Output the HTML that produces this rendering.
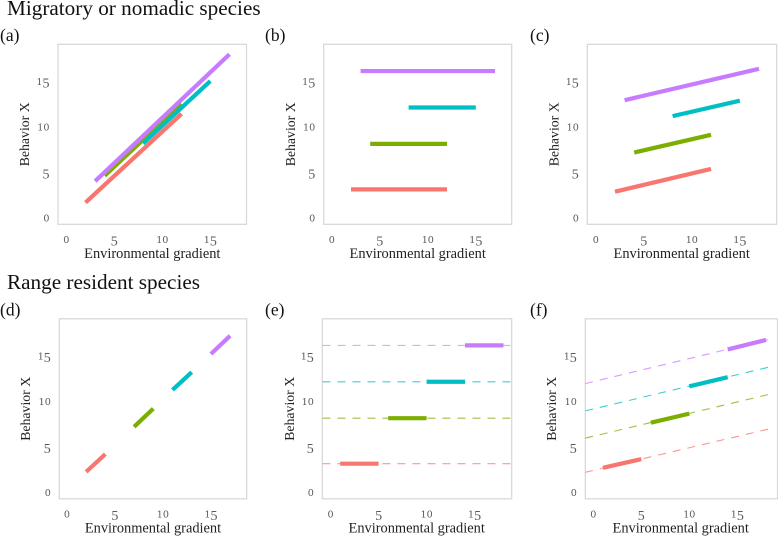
<!DOCTYPE html>
<html>
<head>
<meta charset="utf-8">
<title>Behavior along an environmental gradient</title>
<style>
html,body{margin:0;padding:0;background:#fff;}
svg{display:block;}
text{font-family:"Liberation Serif",serif;}
</style>
</head>
<body>
<svg id="figure" xmlns="http://www.w3.org/2000/svg" width="778" height="536" viewBox="0 0 778 536">
<text x="7" y="15" font-size="21.2" fill="#111">Migratory or nomadic species</text>
<text x="7" y="289" font-size="21.2" fill="#111">Range resident species</text>
</svg>
<script>
const colors = ['#F8766D', '#7CAE00', '#00BFC4', '#C77CFF'];
const speciesNames = ['species-1', 'species-2', 'species-3', 'species-4'];
const tickValues = [0, 5, 10, 15];
const tickLabels = ['0', '5', '10', '15'];
const xDomain = [-0.85, 18.85];

const aXStart = [2, 4, 8, 3];
const aXEnd = [12, 12, 15, 17];
const aYStart = [1.75, 4.7, 8.25, 4.1];
const aYEnd = [11.5, 12.6, 15.1, 18.05];

const bXStart = [2, 4, 8, 3];
const bXEnd = [12, 12, 15, 17];
const bYStart = [3.2, 8.2, 12.2, 16.2];
const bYEnd = [3.2, 8.2, 12.2, 16.2];

const cXStart = [2, 4, 8, 3];
const cXEnd = [12, 12, 15, 17];
const cYStart = [2.95, 7.25, 11.25, 13.0];
const cYEnd = [5.45, 9.2, 12.95, 16.45];

const dXStart = [2, 7, 11, 15];
const dXEnd = [4, 9, 13, 17];
const dYStart = [2.3, 7.25, 11.3, 15.25];
const dYEnd = [4.25, 9.25, 13.25, 17.25];

const eXStart = [1, 6, 10, 14];
const eXEnd = [5, 10, 14, 18];
const eYStart = [3.2, 8.2, 12.2, 16.2];
const eYEnd = [3.2, 8.2, 12.2, 16.2];
const eTrendLeft = [3.2, 8.2, 12.2, 16.2];
const eTrendRight = [3.2, 8.2, 12.2, 16.2];

const fXStart = [1, 6, 10, 14];
const fXEnd = [5, 10, 14, 18];
const fYStart = [2.75, 7.7, 11.7, 15.75];
const fYEnd = [3.7, 8.7, 12.7, 16.8];
const fTrendLeft = [2.25, 6.0, 9.0, 12.0];
const fTrendRight = [7.15, 10.95, 13.95, 17.0];

const svg = document.getElementById('figure');
const NS = 'http://www.w3.org/2000/svg';

function make(tag, attrs, parent) {
  const el = document.createElementNS(NS, tag);
  for (const k in attrs) el.setAttribute(k, attrs[k]);
  (parent || svg).appendChild(el);
  return el;
}

function addTickText(parent, label, x, y, anchor) {
  const t = make('text', {x: x, y: y, 'text-anchor': anchor, fill: '#5a5a5a'}, parent);
  
  
  for (const ch of label) {
    const s = make('tspan', {}, t);
    if (ch === '5') {
      s.setAttribute('font-size', '14');
      s.setAttribute('dy', '2.5');
    } else {
      s.setAttribute('font-family', '"DejaVu Serif", serif');
      s.setAttribute('font-size', '9.6');
    }
    s.textContent = ch;
  }
}

function drawPanel(p) {
  const g = make('g', {});
  
  

  const xScale = v => p.x0 + v * 9.6;
  const yScale = v => p.y0 - v * 9.1;
  const right = p.right;
  const width = right - p.left;

  const clipId = 'clip-' + p.id;
  const defs = make('defs', {}, g);
  const cp = make('clipPath', {id: clipId}, defs);
  make('rect', {x: p.left, y: p.top, width: width, height: 180}, cp);

  const frame = make('rect', {x: p.left, y: p.top, width: width, height: 180, fill: '#fff', stroke: '#d9d9d9', 'stroke-width': 1.3}, g);
  
  

  const marks = make('g', {'clip-path': 'url(#' + clipId + ')'}, g);
  if (p.trendLeft) {
    p.trendLeft.forEach((v, i) => {
      const dash = make('line', {
        x1: xScale(xDomain[0]), y1: yScale(v),
        x2: xScale(xDomain[1]), y2: yScale(p.trendRight[i]),
        stroke: colors[i], 'stroke-width': 1.1, 'stroke-opacity': 0.75, 'stroke-dasharray': '8 7'
      }, marks);
      
      
    });
  }
  p.xs.forEach((v, i) => {
    const seg = make('line', {
      x1: xScale(v), y1: yScale(p.ys[i]),
      x2: xScale(p.xe[i]), y2: yScale(p.ye[i]),
      stroke: colors[i], 'stroke-width': 4.2
    }, marks);
    
    
  });

  tickValues.forEach((v, i) => {
    addTickText(g, tickLabels[i], xScale(v), p.y0 + 24.5, 'middle');
    addTickText(g, tickLabels[i], p.left - 8.5, yScale(v) + 3, 'end');
  });

  const xt = make('text', {x: p.xTitleX, y: p.y0 + 39.5, 'text-anchor': 'middle', 'font-size': 14.4, fill: '#222'}, g);
  
  
  xt.textContent = 'Environmental gradient';

  const yc = p.top + 90;
  const yt = make('text', {x: p.yTitleX, y: yc, 'text-anchor': 'middle', 'font-size': 13.8, fill: '#222', transform: 'rotate(-90 ' + p.yTitleX + ' ' + yc + ')'}, g);
  
  
  yt.textContent = 'Behavior X';

  const tag = make('text', {x: p.tagX, y: p.top - 3.5, 'font-size': 17.5, fill: '#111'}, g);
  
  
  tag.textContent = '(' + p.id + ')';
}

drawPanel({id: 'a', left: 58, right: 246.5, top: 44.3, x0: 66.3, y0: 218.5, xTitleX: 152.3, yTitleX: 29, tagX: 0, xs: aXStart, xe: aXEnd, ys: aYStart, ye: aYEnd});
drawPanel({id: 'b', left: 323.7, right: 511.7, top: 44.3, x0: 331.8, y0: 218.5, xTitleX: 417.7, yTitleX: 295, tagX: 265, xs: bXStart, xe: bXEnd, ys: bYStart, ye: bYEnd});
drawPanel({id: 'c', left: 587.3, right: 776.7, top: 44.3, x0: 595.8, y0: 218.5, xTitleX: 681.7, yTitleX: 558.5, tagX: 530, xs: cXStart, xe: cXEnd, ys: cYStart, ye: cYEnd});
drawPanel({id: 'd', left: 59.3, right: 246.7, top: 318.8, x0: 66.9, y0: 492.8, xTitleX: 153, yTitleX: 30, tagX: 0, xs: dXStart, xe: dXEnd, ys: dYStart, ye: dYEnd});
drawPanel({id: 'e', left: 322.3, right: 511.7, top: 318.8, x0: 330.6, y0: 492.8, xTitleX: 416.7, yTitleX: 294, tagX: 265, xs: eXStart, xe: eXEnd, ys: eYStart, ye: eYEnd, trendLeft: eTrendLeft, trendRight: eTrendRight});
drawPanel({id: 'f', left: 585.3, right: 777.5, top: 318.8, x0: 593.3, y0: 492.8, xTitleX: 680.7, yTitleX: 556, tagX: 530, xs: fXStart, xe: fXEnd, ys: fYStart, ye: fYEnd, trendLeft: fTrendLeft, trendRight: fTrendRight});
</script>
</body>
</html>
